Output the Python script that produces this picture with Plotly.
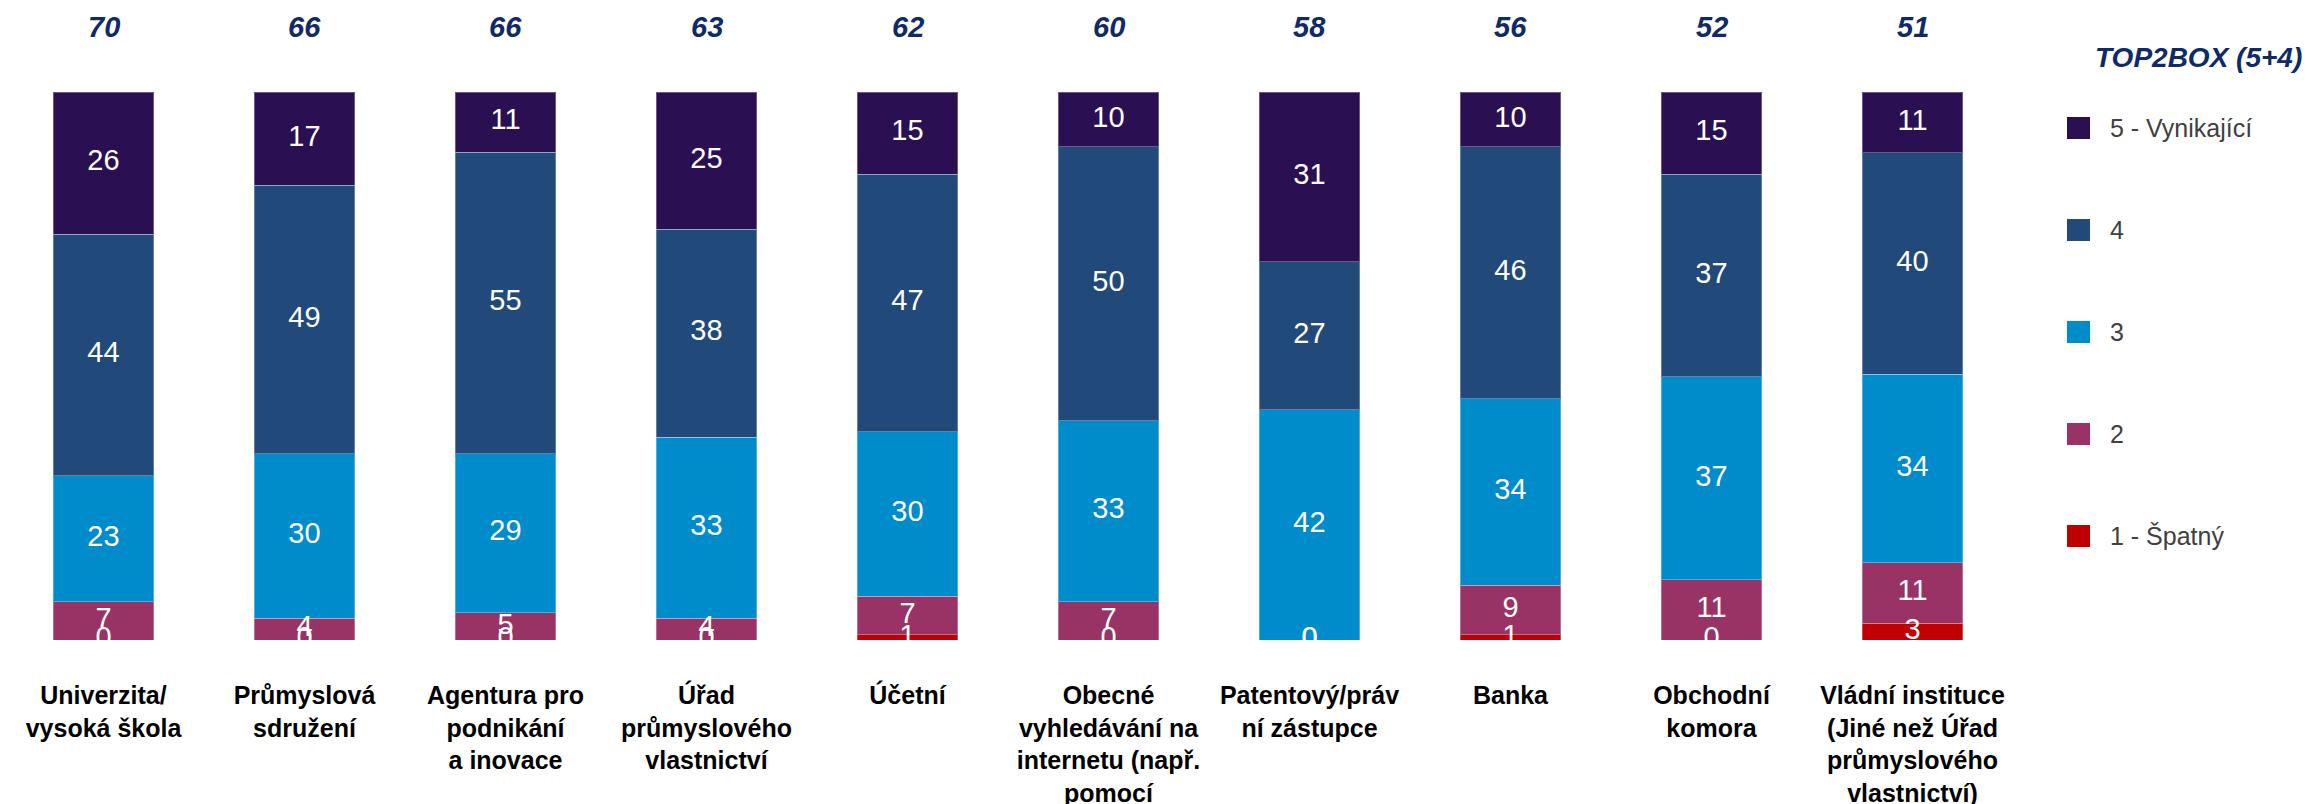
import numpy as np
import plotly.graph_objects as go

categories = [
    "Univerzita/<br>vysoká škola",
    "Průmyslová<br>sdružení",
    "Agentura pro<br>podnikání<br>a inovace",
    "Úřad<br>průmyslového<br>vlastnictví",
    "Účetní",
    "Obecné<br>vyhledávání na<br>internetu (např.<br>pomocí",
    "Patentový/práv<br>ní zástupce",
    "Banka",
    "Obchodní<br>komora",
    "Vládní instituce<br>(Jiné než Úřad<br>průmyslového<br>vlastnictví)",
]
top2box = [70, 66, 66, 63, 62, 60, 58, 56, 52, 51]
s1 = [0, 0, 0, 0, 1, 0, 0, 1, 0, 3]
s2 = [7, 4, 5, 4, 7, 7, 0, 9, 11, 11]
s3 = [23, 30, 29, 33, 30, 33, 42, 34, 37, 34]
s4 = [44, 49, 55, 38, 47, 50, 27, 46, 37, 40]
s5 = [26, 17, 11, 25, 15, 10, 31, 10, 15, 11]
series_names = ["1 - Špatný", "2", "3", "4", "5 - Vynikající"]
legend_title = "TOP2BOX (5+4)"

colors = ["#C00000", "#993366", "#008BCA", "#214A7B", "#2A1052"]

W, H = 2310, 804
L, R, T, B = 3, 297, 92, 164
PW, PH = W - L - R, H - T - B

def px(x):
    return (x - L) / PW

def py(y):
    return (H - B - y) / PH

ARIAL = "Liberation Sans, Arial, sans-serif"

series = [s1, s2, s3, s4, s5]
fig = go.Figure()
for name, vals, col in zip(series_names, series, colors):
    fig.add_trace(go.Bar(
        x=categories, y=vals, name=name, marker_color=col,
        marker_line=dict(color="rgba(255,255,255,0.3)", width=1),
        showlegend=False,
    ))

arr = np.array(series, dtype=float)
tot = arr.sum(axis=0)
norm = arr / tot * 100
cum = np.cumsum(norm, axis=0)
mid = cum - norm / 2
for i in range(len(series)):
    fig.add_trace(go.Scatter(
        x=categories, y=mid[i], mode="text",
        text=[str(v) for v in series[i]],
        textfont=dict(family=ARIAL, size=29, color="white"),
        textposition="middle center", cliponaxis=True,
        showlegend=False, hoverinfo="skip",
    ))

annotations = []
for c, v in zip(categories, top2box):
    annotations.append(dict(
        x=c, y=py(27), xref="x", yref="paper", text=str(v), showarrow=False,
        font=dict(family=ARIAL, size=29, color="#0F2A66", weight="bold", style="italic"),
        xanchor="center", yanchor="middle",
    ))
annotations.append(dict(
    x=px(2304), y=py(57), xref="paper", yref="paper", text=legend_title, showarrow=False,
    font=dict(family=ARIAL, size=28, color="#0F2A66", weight="bold", style="italic"),
    xanchor="right", yanchor="middle",
))
shapes = []
legend_y0, legend_dy = 128, 102
for k, (name, col) in enumerate(zip(series_names[::-1], colors[::-1])):
    yc = legend_y0 + k * legend_dy
    shapes.append(dict(type="rect", xref="paper", yref="paper",
                       x0=px(2067), x1=px(2090), y0=py(yc + 11), y1=py(yc - 11),
                       fillcolor=col, line=dict(width=0)))
    annotations.append(dict(
        x=px(2108), y=py(yc), xref="paper", yref="paper", text=name, showarrow=False,
        font=dict(family=ARIAL, size=25, color="#404040"),
        xanchor="left", yanchor="middle",
    ))

fig.update_layout(
    barmode="stack", barnorm="percent", bargap=0.5,
    width=W, height=H,
    margin=dict(l=L, r=R, t=T, b=B, autoexpand=False),
    plot_bgcolor="white", paper_bgcolor="white",
    annotations=annotations, shapes=shapes,
    xaxis=dict(showgrid=False, zeroline=False, showline=False, ticks="",
               tickfont=dict(family=ARIAL, size=25, color="black", weight="bold"),
               ticklabelstandoff=38),
    yaxis=dict(range=[0, 100], visible=False, showgrid=False, zeroline=False),
    showlegend=False,
)
fig.write_html(
    "out.html",
    config={"displayModeBar": False},
    post_script="document.body.style.margin='0';document.body.style.overflow='hidden';",
)
